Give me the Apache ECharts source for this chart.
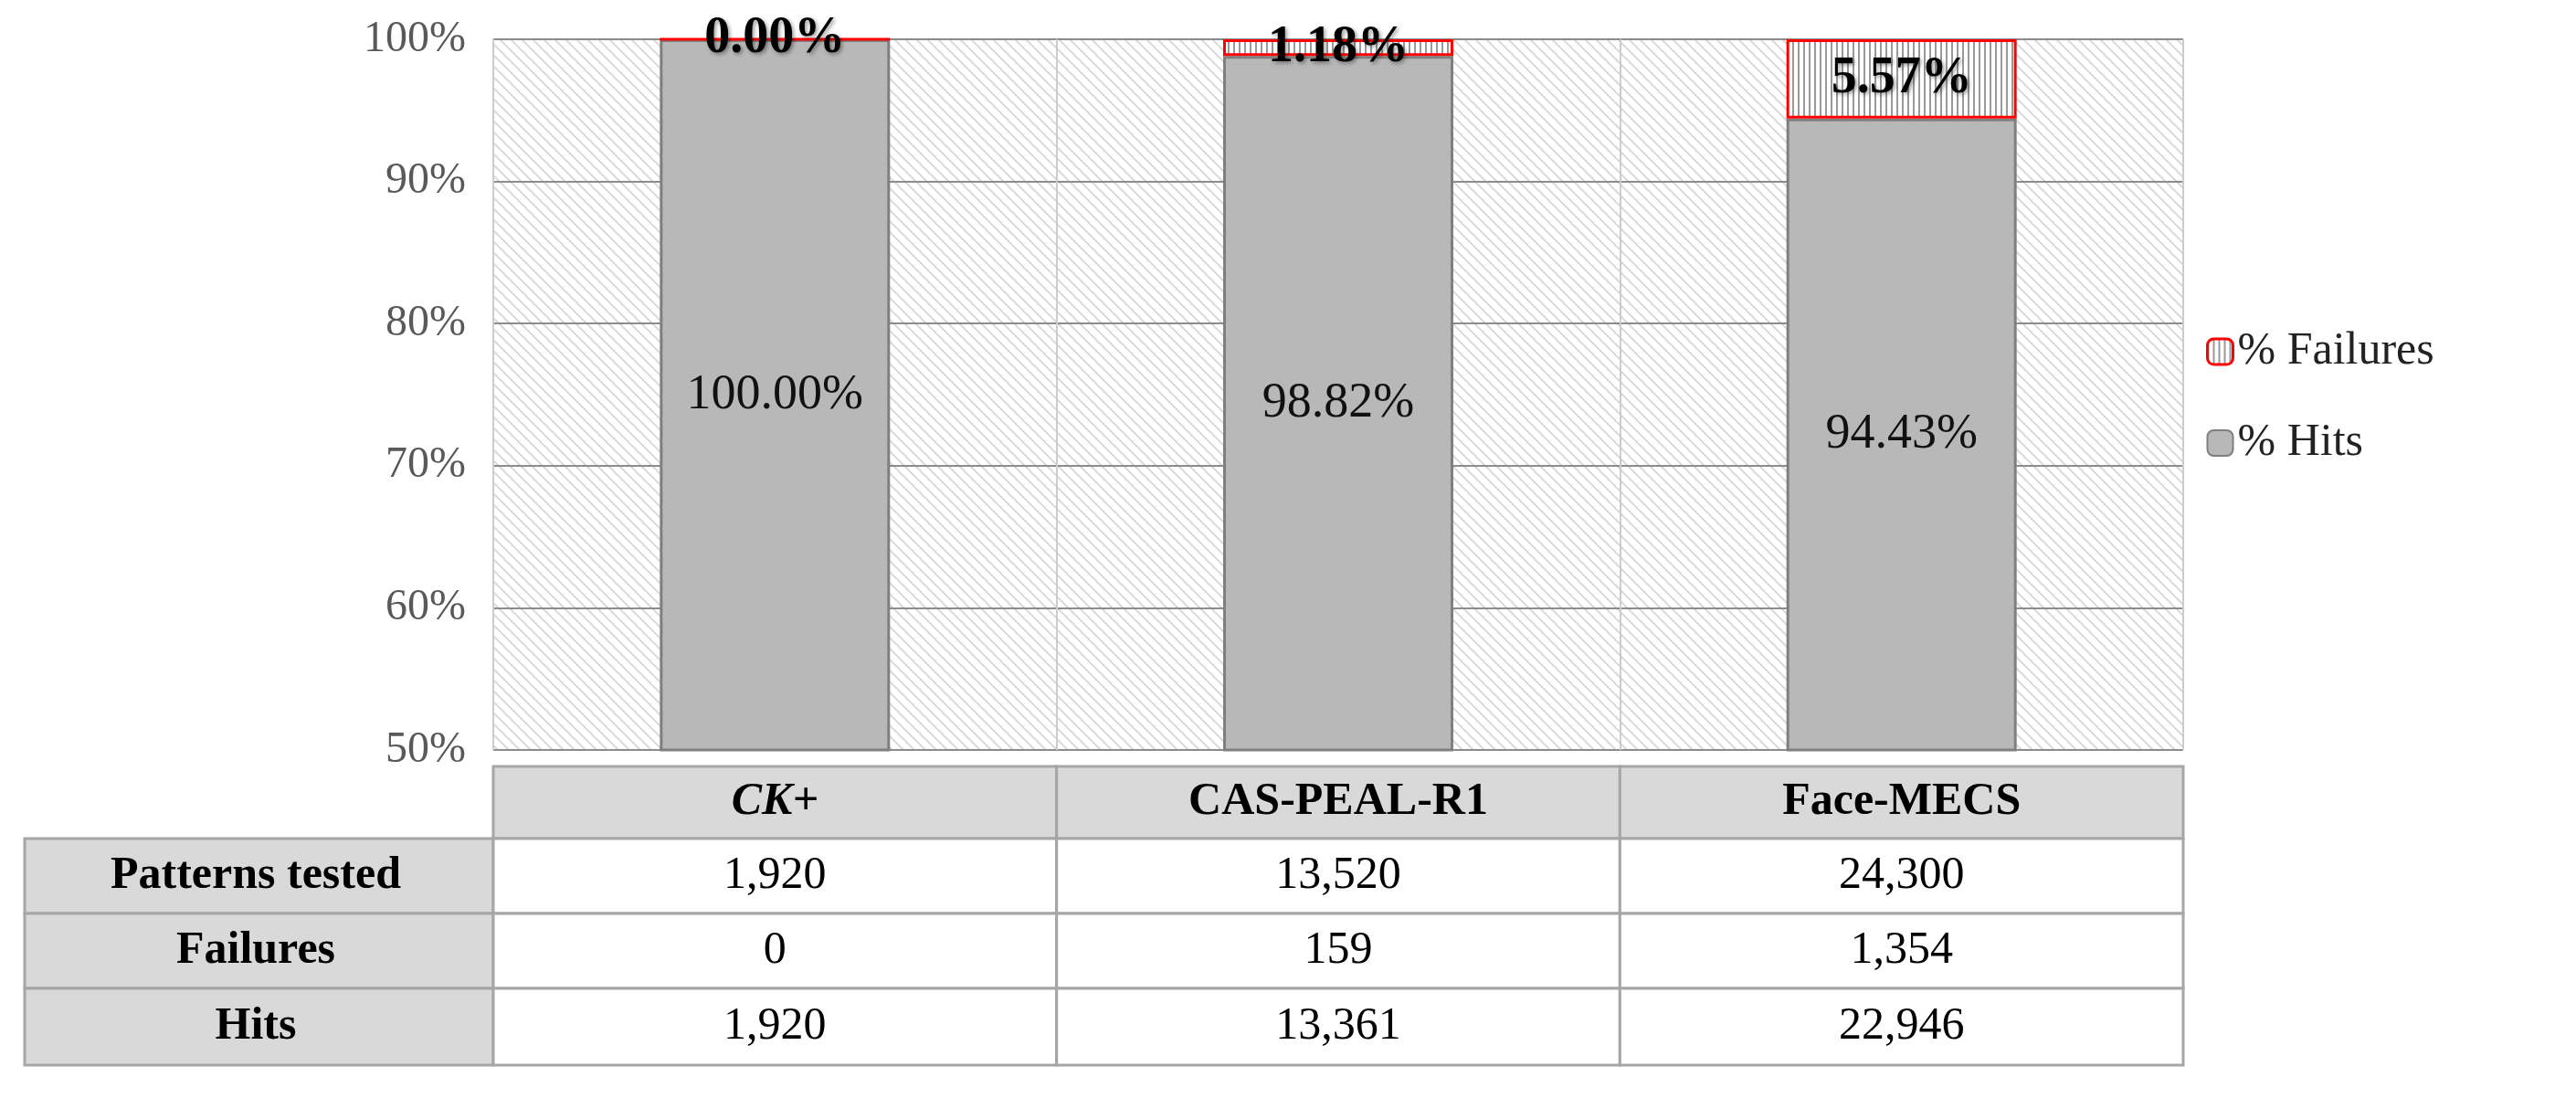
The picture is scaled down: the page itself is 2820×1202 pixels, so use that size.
<!DOCTYPE html>
<html><head><meta charset="utf-8">
<script src="https://cdn.jsdelivr.net/npm/echarts@6/dist/echarts.min.js"></script>
<style>html,body{margin:0;padding:0;background:#fff}#c{width:2820px;height:1202px}</style>
</head><body><div id="c"></div>
<script>
const categories = ['CK+', 'CAS-PEAL-R1', 'Face-MECS'];
const hits = [100.00, 98.82, 94.43];
const failures = [0.00, 1.18, 5.57];
const rowLabels = ['Patterns tested', 'Failures', 'Hits'];
const patternsTested = ['1,920', '13,520', '24,300'];
const failuresCount = ['0', '159', '1,354'];
const hitsCount = ['1,920', '13,361', '22,946'];
const tableRows = [patternsTested, failuresCount, hitsCount];

function hatch() {
  const c = document.createElement('canvas'); c.width = 12; c.height = 12;
  const g = c.getContext('2d'); g.fillStyle = '#fff'; g.fillRect(0,0,12,12);
  g.strokeStyle = '#d4d4d4'; g.lineWidth = 1.6;
  g.beginPath(); g.moveTo(0,0); g.lineTo(12,12); g.moveTo(-6,6); g.lineTo(6,18); g.moveTo(6,-6); g.lineTo(18,6); g.stroke();
  return c;
}
function vlines() {
  const c = document.createElement('canvas'); c.width = 6; c.height = 6;
  const g = c.getContext('2d'); g.fillStyle = '#fff'; g.fillRect(0,0,6,6);
  g.fillStyle = '#999'; g.fillRect(0,0,2,6);
  return c;
}
const W = 2820, H = 1202;
const gl = 540, gr = 2390, gt = 43, gb = 821;
const font = '"Liberation Serif", serif';
const chart = echarts.init(document.getElementById('c'));
const graphics = [];
const colW = (gr - gl) / 3;
const rowY = [839, 918, 1000, 1082, 1166];
const border = '#a6a6a6';
categories.forEach((c, i) => {
  const x = gl + i * colW;
  graphics.push({type:'rect', shape:{x:x, y:rowY[0], width:colW, height:rowY[1]-rowY[0]}, style:{fill:'#d9d9d9', stroke:border, lineWidth:3}});
  graphics.push({type:'text', x:x+colW/2, y:(rowY[0]+rowY[1])/2, style:{text:c, font:(i===0?'italic ':'')+'bold 50px '+font, fill:'#000', align:'center', verticalAlign:'middle'}});
});
rowLabels.forEach((r, j) => {
  const y = rowY[j+1], h = rowY[j+2]-rowY[j+1];
  graphics.push({type:'rect', shape:{x:27, y:y, width:gl-27, height:h}, style:{fill:'#d9d9d9', stroke:border, lineWidth:3}});
  graphics.push({type:'text', x:gl/2+10, y:y+h/2, style:{text:r, font:'bold 50px '+font, fill:'#000', align:'center', verticalAlign:'middle'}});
  tableRows[j].forEach((v, i) => {
    const x = gl + i*colW;
    graphics.push({type:'rect', shape:{x:x, y:y, width:colW, height:h}, style:{fill:'#fff', stroke:border, lineWidth:3}});
    graphics.push({type:'text', x:x+colW/2, y:y+h/2, style:{text:v, font:'50px '+font, fill:'#000', align:'center', verticalAlign:'middle'}});
  });
});
chart.setOption({
  animation:false,
  grid:{left:gl, right:W-gr, top:gt, bottom:H-gb, show:true, backgroundColor:{image:hatch(), repeat:'repeat'}, borderColor:'#bbb', borderWidth:1},
  legend:{orient:'vertical', left:2410, top:355, itemGap:50, itemWidth:28, itemHeight:28,
    textStyle:{fontFamily:font, fontSize:50, color:'#222'},
    data:[{name:'% Failures', itemStyle:{color:{image:vlines(), repeat:'repeat'}, borderColor:'#ff0000', borderWidth:3}}, {name:'% Hits'}]},
  xAxis:{type:'category', data:categories, axisLabel:{show:false}, axisTick:{show:false}, axisLine:{show:false},
    splitLine:{show:true, interval:0, lineStyle:{color:'#ccc', width:2}}},
  yAxis:{type:'value', min:50, max:100, interval:10,
    axisLabel:{formatter:'{value}%', fontFamily:font, fontSize:48, color:'#595959', margin:30},
    axisLine:{show:false}, axisTick:{show:false}, splitLine:{lineStyle:{color:'#8c8c8c', width:2}}},
  series:[
    {name:'% Hits', type:'bar', stack:'s', data:hits, barWidth:252,
      itemStyle:{color:'#b8b8b8', borderColor:'#7f7f7f', borderWidth:3},
      label:{show:true, position:'inside', formatter:p=>p.value.toFixed(2)+'%', fontFamily:font, fontSize:54, color:'#111'}},
    {name:'% Failures', type:'bar', stack:'s', data:failures, barWidth:252,
      itemStyle:{color:{image:vlines(), repeat:'repeat'}, borderColor:'#ff0000', borderWidth:3},
      label:{show:true, position:'inside', formatter:p=>p.value.toFixed(2)+'%', fontFamily:font, fontSize:56, fontWeight:'bold', color:'#000', textShadowColor:'rgba(0,0,0,0.4)', textShadowBlur:4, textShadowOffsetX:2, textShadowOffsetY:2}}
  ],
  graphic:graphics
});
</script></body></html>
